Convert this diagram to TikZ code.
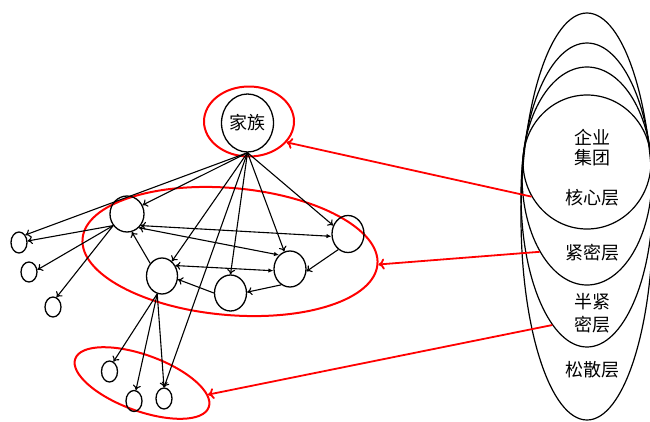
\documentclass[tikz,border=0pt]{standalone}
\usepackage{fontspec}
\setmainfont{Noto Sans CJK SC}
\usetikzlibrary{shapes.geometric,arrows.meta}
\tikzset{
  nd/.style={draw=black, line width=1.3pt, shape=ellipse, inner sep=0pt},
  layer/.style={draw=black, line width=1.2pt, shape=ellipse, inner sep=0pt},
  redring/.style={draw=red, line width=2pt, shape=ellipse, inner sep=0pt},
  arr/.style={line width=1.1pt, -{To[length=5pt,width=8pt]}},
  darr/.style={line width=1.1pt, {To[length=5pt,width=8pt]}-{Latex[length=5pt,width=4.5pt]}},
  rarr/.style={draw=red, line width=1.8pt, -{To[length=6pt,width=11pt]}},
  lab/.style={font=\fontsize{18}{20}\selectfont, inner sep=0pt}
}
\begin{document}
\begin{tikzpicture}[x=1pt,y=-1pt]
\useasboundingbox (0,0) rectangle (650,421);
\begin{scope}
\clip (0,0) rectangle (650,421);
% right layer ellipses
\node[layer, minimum width=128pt, minimum height=134pt] (e1) at (587,162) {};
\node[layer, minimum width=130pt, minimum height=218pt] (e2) at (587,176) {};
\node[layer, minimum width=132pt, minimum height=304pt] (e3) at (587,195) {};
\node[layer, minimum width=132pt, minimum height=407pt] (e4) at (587,216.5) {};
\end{scope}
\node[lab] (t1) at (592,137) {企业};
\node[lab] (t2) at (592,158) {集团};
\node[lab] (t3) at (592,198) {核心层};
\node[lab] (t4) at (592,253) {紧密层};
\node[lab] (t5) at (592,302) {半紧};
\node[lab] (t6) at (592,325) {密层};
\node[lab] (t7) at (592,370) {松散层};

% red rings
\node[redring, minimum width=90pt, minimum height=70pt] (rtop) at (249,121.5) {};
\node[redring, minimum width=296pt, minimum height=127pt, rotate=-5] (rmid) at (230,251.5) {};
\node[redring, minimum width=142pt, minimum height=56pt, rotate=-20] (rbot) at (142,383) {};

% graph nodes
\node[nd, minimum width=52pt, minimum height=58pt, font=\fontsize{18}{20}\selectfont] (jz) at (247.5,123) {家族};
\node[nd, minimum width=34pt, minimum height=36pt] (A) at (127,214) {};
\node[nd, minimum width=32pt, minimum height=37pt] (B) at (348,234) {};
\node[nd, minimum width=31pt, minimum height=36pt] (C) at (162,276) {};
\node[nd, minimum width=32pt, minimum height=36pt] (D) at (290,269) {};
\node[nd, minimum width=32pt, minimum height=36pt] (E) at (230.5,293) {};
\node[nd, minimum width=16pt, minimum height=21pt] (L1) at (19,242.5) {};
\node[nd, minimum width=16pt, minimum height=20pt] (L2) at (29,272) {};
\node[nd, minimum width=16pt, minimum height=20pt] (L3) at (53,307) {};
\node[nd, minimum width=16pt, minimum height=21pt] (B1) at (109.5,371.5) {};
\node[nd, minimum width=16pt, minimum height=21pt] (B2) at (134,401) {};
\node[nd, minimum width=16pt, minimum height=21pt] (B3) at (164,398.5) {};

% black edges
\draw[arr] (jz.south) -- (L1.50);
\draw[arr] (jz.south) -- (A.30);
\draw[arr] (jz.south) -- (C.56);
\draw[arr] (jz.south) -- (B3.north);
\draw[arr] (jz.south) -- (E.north);
\draw[arr] (jz.south) -- (D.108);
\draw[arr] (jz.south) -- (B.150);
\draw[arr] (A.-140) -- (L1.10);
\draw[arr] (A.-140) -- (L2.15);
\draw[arr] (A.-140) -- (L3.70);
\draw[darr] (A.-40) -- (B.188);
\draw[darr] (A.-49) -- (D.128);
\draw[arr] (C.133) -- (A.-75);
\draw[darr] (C.38) -- (D.186);
\draw[arr] (E.180) -- (C.-12);
\draw[arr] (D.-119) -- (E.3);
\draw[arr] (B.-122) -- (D.-8);
\draw[arr] (C.-105) -- (B1.68);
\draw[arr] (C.-105) -- (B2.80);
\draw[arr] (C.-105) -- (B3.north);

% red arrows
\draw[rarr] (e1.212.5) -- (rtop.-29);
\draw[rarr] (e2.238) -- (rmid.east);
\draw[rarr] (e3.255) -- (rbot.10);
\end{tikzpicture}
\end{document}
